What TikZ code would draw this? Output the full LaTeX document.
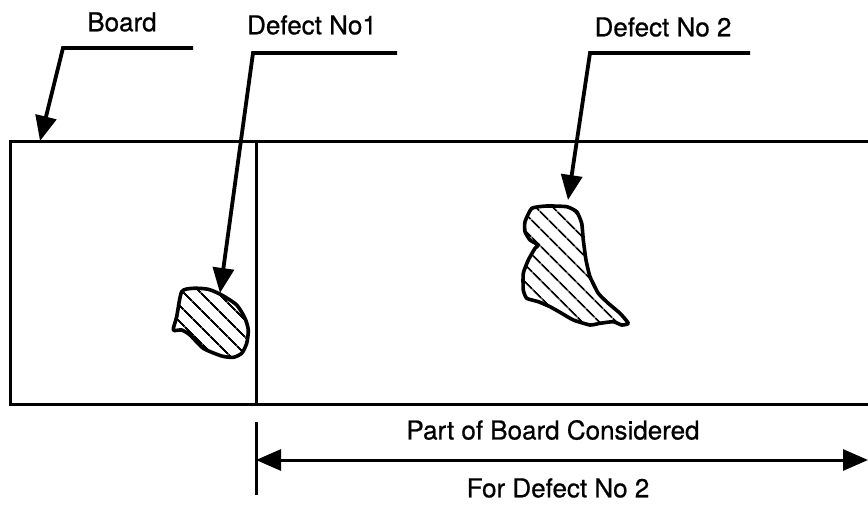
\documentclass[tikz,border=0pt]{standalone}
\usepackage{fontspec}
\setmainfont{TeX Gyre Heros}
\newfontfamily\rotfont[FakeBold=0.7]{TeX Gyre Heros}
\usetikzlibrary{arrows.meta,patterns.meta}

\begin{document}
\begin{tikzpicture}[x=1pt, y=-1pt, >={Triangle[length=25pt,width=21pt]}, line width=3pt,
  rotulo/.style={font=\rotfont\fontsize{26}{30}\selectfont, inner sep=0pt},
  guia/.style={line width=3.8pt, line join=miter, ->},
  defecto/.style={line width=3.6pt, line join=round,
    pattern={Lines[angle=-45, distance=13pt, line width=2pt]}}]
  \useasboundingbox (0,0) rectangle (868,505);
  % tablero
  \draw (868,142) -- (10,142) -- (10,404) -- (868,404);
  \draw (256,142) -- (256,404);
  % rotulos
  \node[rotulo] (tablero) at (122,22) {Board};
  \node[rotulo] (def1) at (312,25) {Defect No1};
  \node[rotulo] (def2) at (663,27) {Defect No 2};
  \node[rotulo] (parte) at (553,430) {Part of Board Considered};
  \node[rotulo] (para) at (558,488) {For Defect No 2};
  % lineas guia
  \coordinate (tabK) at (193,48);
  \coordinate (tabC) at (63,48);
  \coordinate (tabP) at (40,141);
  \draw[guia] (tabK) -- (tabC) -- (tabP);
  \coordinate (d1K) at (397,53);
  \coordinate (d1C) at (253,53);
  \coordinate (d1P) at (220,293);
  \draw[guia] (d1K) -- (d1C) -- (d1P);
  \coordinate (d2K) at (750,53);
  \coordinate (d2C) at (590,53);
  \coordinate (d2P) at (568,200);
  \draw[guia] (d2K) -- (d2C) -- (d2P);
  % defectos
  \draw[defecto] plot[smooth cycle, tension=0.4] coordinates {
    (181.7,291.7) (193.3,288.3) (208.3,289.3) (221.7,295) (236.7,305)
    (245,318.3) (248.3,330) (246.7,343.3) (241.7,353.3) (233.3,357.3)
    (221.7,356) (203.3,348.3) (190,335) (181.7,330) (173.3,330) (176.7,316.7)};
  \draw[defecto] plot[smooth cycle, tension=0.3] coordinates {
    (531.7,208.3) (546.7,206) (566.7,206.7) (576.7,211.7) (581.7,223.3)
    (583.3,240) (586,260) (590,276.7) (598.3,293.3) (608.3,303.3)
    (620,313.3) (628.3,323.3) (621.7,325) (613.3,321.7) (600,323.3)
    (590,325) (573.3,320) (561.7,313.3) (550,306.7) (538.3,301.7)
    (526.7,298.3) (523.3,290) (523.3,273.3) (528.3,260) (535,248.3)
    (538.3,245) (530,240) (525,231.7) (525,221.7)};
  % cota
  \coordinate (cotaA) at (256,422);
  \coordinate (cotaB) at (256,495);
  \draw (cotaA) -- (cotaB);
  \coordinate (flechaA) at (256,460);
  \coordinate (flechaB) at (868,460);
  \draw[<->] (flechaA) -- (flechaB);
\end{tikzpicture}
\end{document}
